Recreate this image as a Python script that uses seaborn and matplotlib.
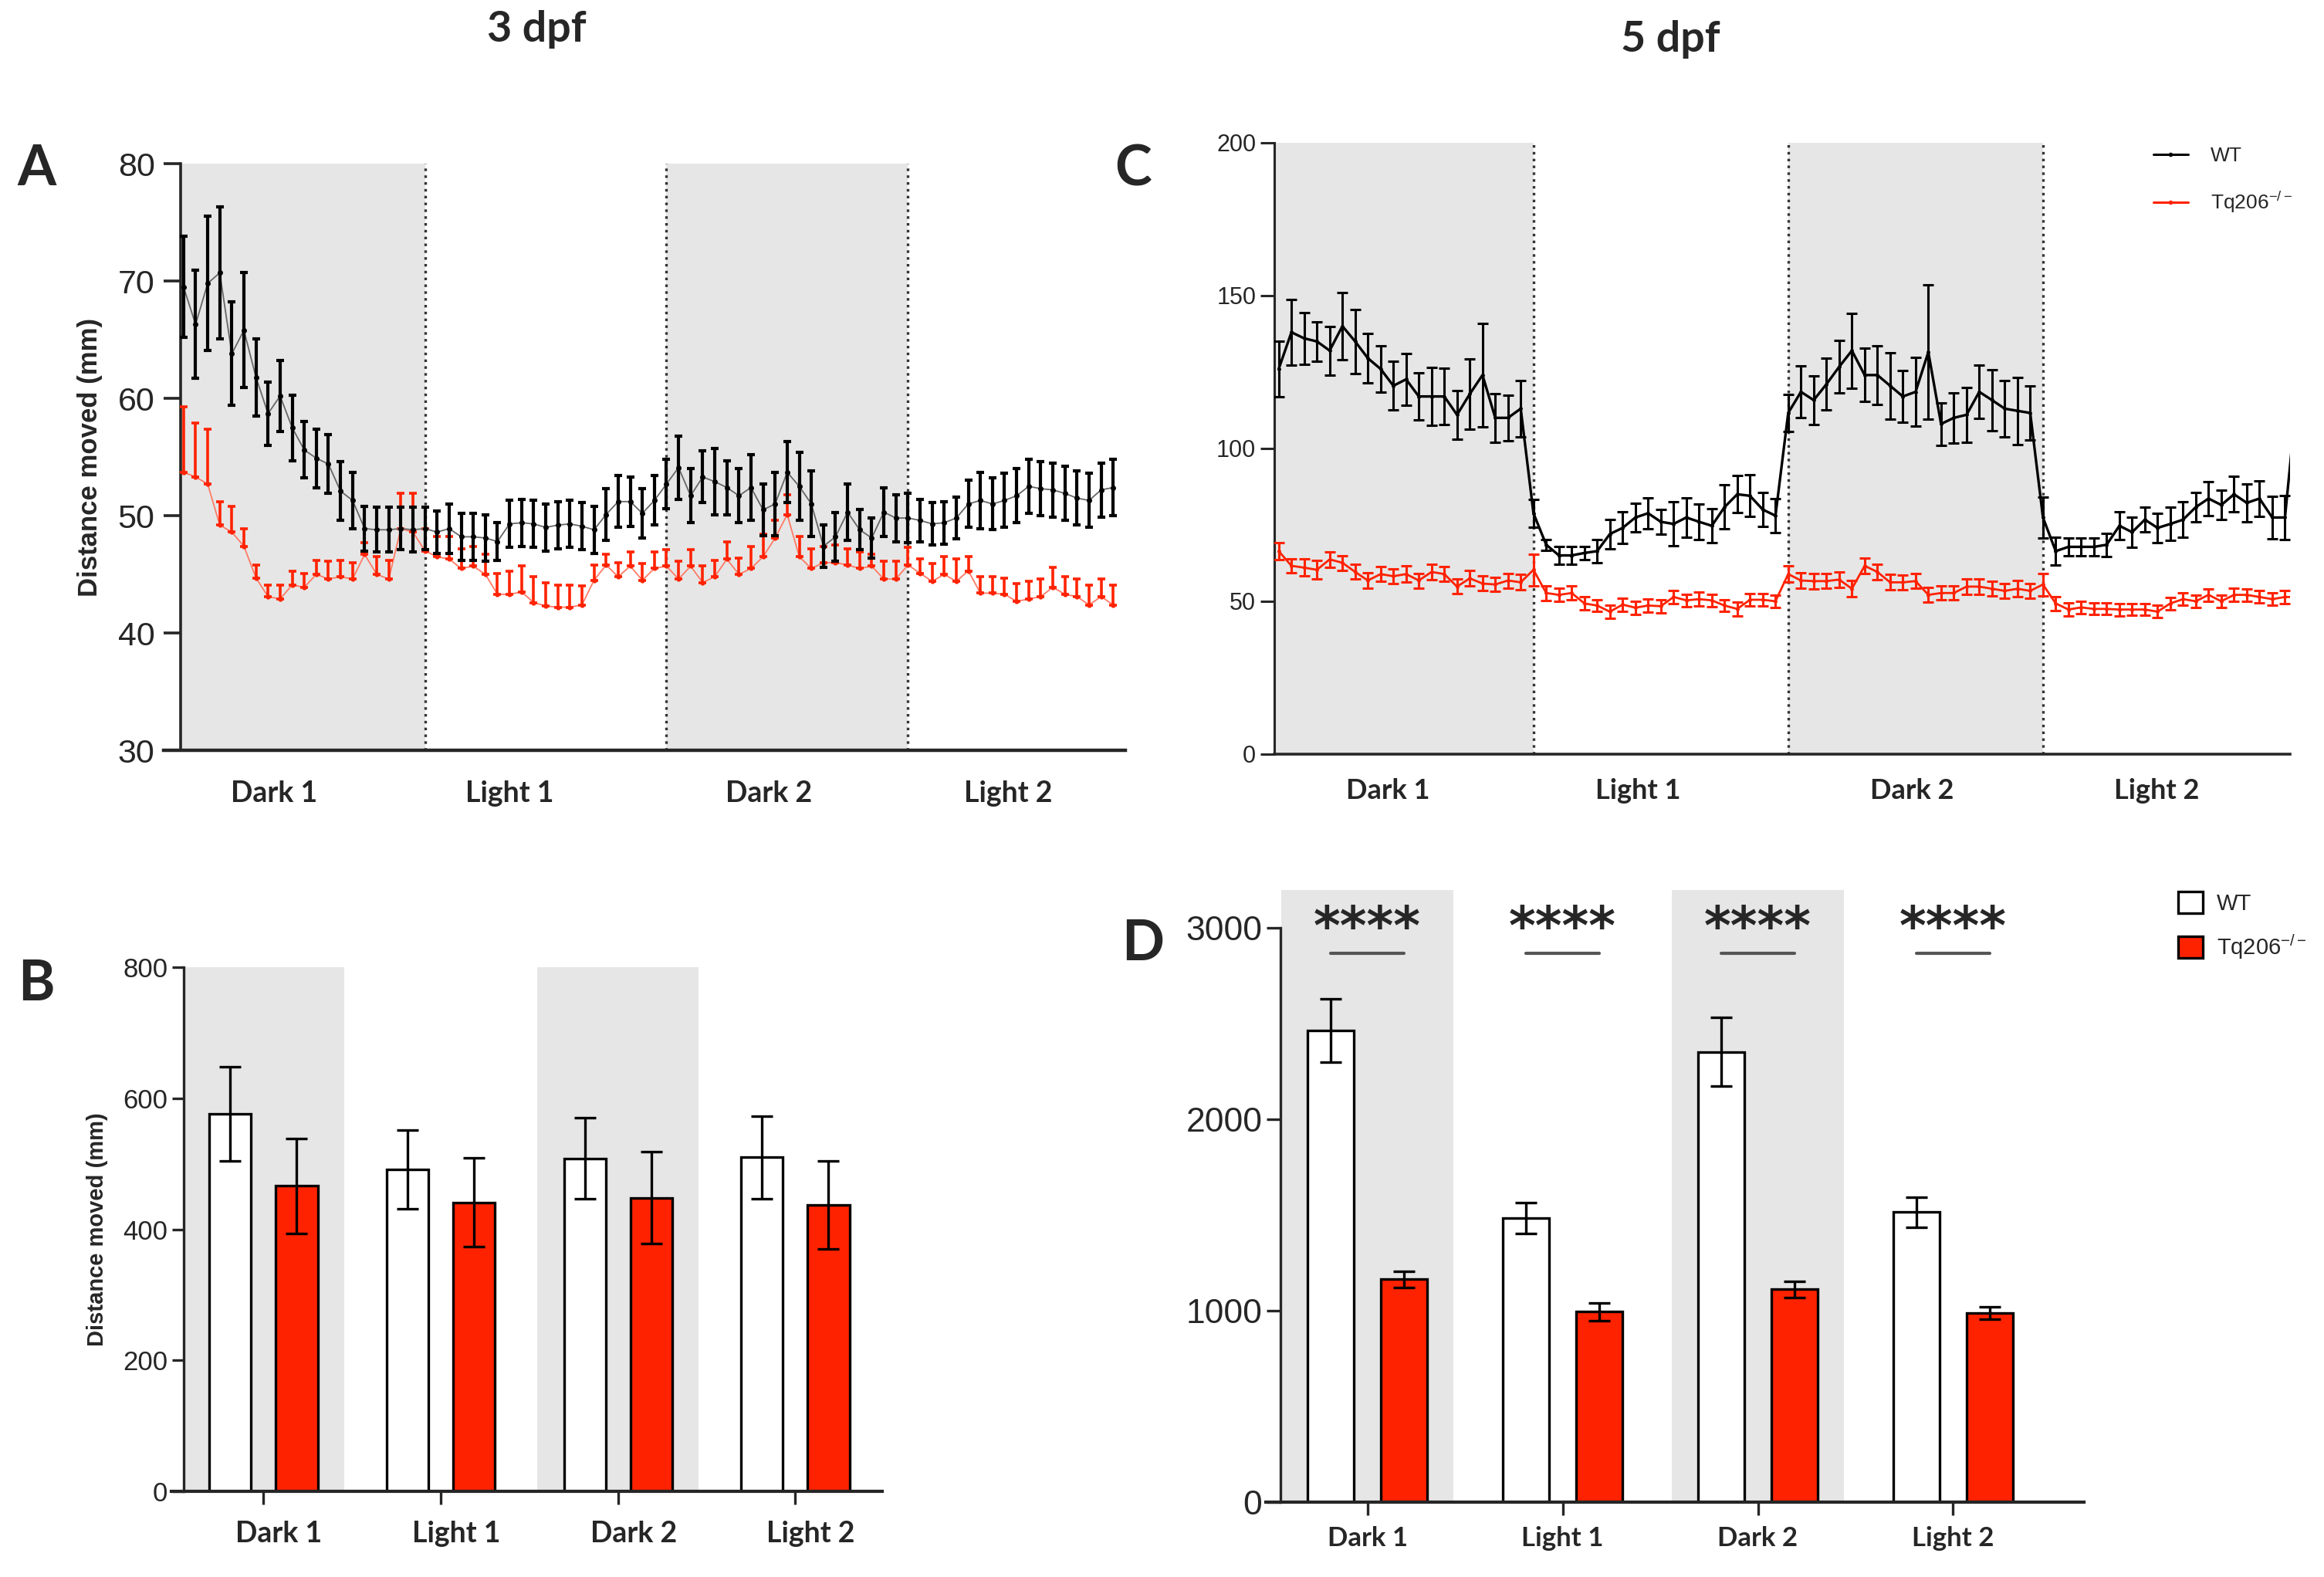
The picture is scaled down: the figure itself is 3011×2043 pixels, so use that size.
import numpy as np
import pandas as pd
import matplotlib
matplotlib.use("Agg")
import matplotlib.pyplot as plt
import seaborn as sns
from matplotlib.lines import Line2D
from matplotlib.patches import Patch
from matplotlib.transforms import ScaledTranslation

sns.set_style("ticks")
plt.rcParams['font.family'] = ['Liberation Sans', 'DejaVu Sans']
plt.rcParams['mathtext.fontset'] = 'custom'
plt.rcParams['mathtext.rm'] = 'Liberation Sans'
plt.rcParams['mathtext.it'] = 'Liberation Sans:italic'
plt.rcParams['mathtext.bf'] = 'Liberation Sans:bold'
plt.rcParams['mathtext.default'] = 'regular'

RED = "#FF2200"
SHADE = "#E6E6E6"
NARROW = ['Liberation Sans Narrow', 'Liberation Sans', 'DejaVu Sans']
HUMAN = ['Lato', 'DejaVu Sans']

periods = ["Dark 1", "Light 1", "Dark 2", "Light 2"]
genotypes = ["WT", "Tq206$^{-/-}$"]
period_len = 20  # minutes per light/dark period

# ============================================================
# Panel A: 3 dpf, distance moved per minute
# ============================================================
a_wt_mean = [69.5, 66.3, 69.8, 70.7, 63.8, 65.8, 61.8, 58.7, 60.2, 57.5,
             55.6, 54.9, 54.4, 52.1, 51.3, 48.9, 48.8, 48.8, 48.9, 48.8,
             48.9, 48.6, 48.9, 48.2, 48.2, 48.1, 47.8, 49.3, 49.4, 49.3,
             49.0, 49.2, 49.3, 49.1, 48.8, 50.1, 51.2, 51.2, 50.2, 51.3,
             52.7, 54.1, 51.7, 53.3, 52.9, 52.4, 51.7, 52.4, 50.5, 51.0,
             53.7, 52.5, 51.0, 47.4, 48.2, 50.3, 48.8, 48.1, 50.3, 49.8,
             49.8, 49.6, 49.3, 49.4, 49.8, 51.0, 51.3, 51.0, 51.3, 51.7,
             52.5, 52.3, 52.2, 51.9, 51.5, 51.3, 52.2, 52.4]
a_wt_sem = [4.3, 4.6, 5.7, 5.6, 4.4, 4.9, 3.3, 2.7, 3.0, 2.8,
            2.4, 2.5, 2.5, 2.5, 2.4, 1.9, 1.9, 1.9, 1.8, 1.9,
            1.8, 1.8, 2.1, 2.0, 2.0, 2.0, 1.6, 2.0, 2.0, 2.0,
            2.0, 2.0, 2.0, 2.0, 2.0, 2.2, 2.2, 2.1, 2.1, 2.1,
            2.1, 2.7, 2.3, 2.2, 2.8, 2.3, 2.3, 2.8, 2.2, 2.7,
            2.6, 2.9, 2.8, 1.8, 2.1, 2.4, 1.7, 1.7, 2.1, 2.0,
            2.1, 1.8, 1.8, 1.8, 1.8, 2.0, 2.4, 2.2, 2.3, 2.3,
            2.3, 2.3, 2.3, 2.3, 2.3, 2.3, 2.3, 2.4]
a_mut_mean = [53.7, 53.3, 52.7, 49.2, 48.6, 47.4, 44.7, 43.1, 42.9, 44.1,
              43.9, 45.0, 44.6, 44.8, 44.6, 46.7, 45.0, 44.6, 48.9, 48.6,
              47.0, 46.5, 46.3, 45.5, 45.7, 45.0, 43.3, 43.3, 43.5, 42.6,
              42.3, 42.2, 42.2, 42.4, 44.5, 45.8, 44.8, 45.7, 44.5, 45.5,
              45.7, 44.6, 45.7, 44.3, 44.8, 46.3, 45.0, 45.5, 46.5, 48.1,
              50.1, 46.5, 45.5, 46.0, 46.0, 45.8, 45.5, 45.7, 44.6, 44.6,
              45.8, 45.1, 44.4, 45.0, 44.4, 45.3, 43.4, 43.4, 43.3, 42.7,
              42.9, 43.1, 43.9, 43.3, 43.1, 42.4, 43.1, 42.4]
a_mut_sem = [5.6, 4.6, 4.7, 2.0, 2.2, 1.5, 1.1, 1.0, 1.2, 1.2,
             1.2, 1.2, 1.5, 1.4, 1.4, 1.0, 1.5, 1.6, 3.0, 3.3,
             1.9, 1.7, 1.9, 1.7, 1.7, 1.7, 1.8, 2.0, 2.2, 2.2,
             2.0, 1.9, 1.9, 1.6, 1.3, 0.9, 1.2, 1.2, 1.4, 1.4,
             1.4, 1.5, 1.4, 1.4, 1.4, 1.5, 1.4, 1.9, 1.9, 1.5,
             1.7, 1.7, 1.7, 1.4, 1.5, 1.4, 1.4, 1.0, 1.5, 1.5,
             1.5, 1.2, 1.5, 1.5, 1.9, 1.2, 1.4, 1.4, 1.4, 1.5,
             1.5, 1.5, 1.7, 1.5, 1.5, 1.7, 1.5, 1.7]

# ============================================================
# Panel C: 5 dpf, distance moved per minute
# ============================================================
c_wt_mean = [126, 138, 136, 135, 132, 140, 135, 129.5, 126, 120.5,
             122.6, 117, 117, 117, 111, 117.8, 124, 110, 110, 113,
             78.8, 68.5, 65, 65, 65.8, 66.4, 72, 74, 77.4, 78.8,
             76, 75.3, 77.4, 76, 74.7, 80.8, 85, 84.5, 80, 78,
             111.6, 118.5, 115.8, 121, 126.7, 132, 124, 124, 120.5, 117,
             118.5, 131.5, 108, 110, 111, 118.5, 115.8, 113, 112.3, 111.6,
             77.4, 66.4, 67.8, 67.8, 67.8, 68.5, 74.7, 72.6, 76.7, 74,
             75.3, 76.7, 80.8, 83.6, 81.5, 85, 82.2, 83.6, 77.4, 77.4,
             120]
c_wt_sem = [9, 10.7, 8.5, 6.5, 8, 11, 10.5, 8, 7.5, 8,
            8.4, 7.7, 9.5, 9.2, 8, 11.4, 17, 8, 7.5, 9.3,
            4.5, 1.8, 3, 2.9, 2.2, 3.7, 4.8, 5.2, 4.7, 5.1,
            4, 7.2, 6.5, 5.7, 5.5, 7.2, 6.1, 6.8, 5.5, 5.5,
            6, 8.5, 8, 8.4, 8.6, 12.2, 8.7, 9.6, 10.8, 8.5,
            11.3, 21.9, 7, 8.2, 9, 8.7, 10, 9.2, 11, 8.9,
            6.8, 4.5, 3, 3, 3, 3.8, 4.6, 5, 4, 4.8,
            5.4, 5.8, 4.9, 5.6, 4.8, 5.8, 6.2, 5.8, 7, 7.2,
            0]
c_mut_mean = [66.4, 61.6, 61, 60.3, 63.7, 62.6, 59.6, 56.8, 58.9, 58.2,
              58.9, 56.8, 59.6, 58.9, 54.8, 57.5, 55.8, 55.5, 56.8, 56.2,
              60.3, 52.7, 52.1, 52.7, 49.3, 48.6, 46.6, 48.9, 47.9, 48.6,
              48.4, 51.4, 50.3, 50.7, 50.3, 48.6, 47.5, 50.5, 50.5, 50,
              58.9, 56.8, 56.6, 56.6, 57.1, 54.1, 61.6, 59.6, 56.2, 56.2,
              56.6, 52.1, 52.7, 52.7, 54.8, 54.8, 54.1, 53.4, 54.1, 53.4,
              55.5, 49.3, 47.3, 48, 47.5, 47.5, 47.3, 47.3, 47.3, 46.6,
              49.3, 50.7, 50, 52.1, 50, 52.1, 52.1, 51.4, 50.7, 51.4,
              51.4]
c_mut_sem = [2.7, 2.2, 2.8, 3, 2.5, 2.4, 2.4, 2.5, 2.4, 2.5,
             2.6, 2.4, 2.6, 2.4, 2.4, 2.5, 2.4, 2.3, 2.4, 2.5,
             5.2, 2.4, 2.2, 2.3, 2.1, 2.0, 2.2, 2.2, 2.2, 2.2,
             2.1, 2.2, 2.0, 2.2, 2.0, 2.0, 2.2, 2.1, 2.1, 2.1,
             2.6, 2.5, 2.5, 2.4, 2.5, 2.6, 2.5, 2.6, 2.5, 2.4,
             2.4, 2.4, 2.3, 2.3, 2.5, 2.5, 2.4, 2.5, 2.6, 2.4,
             3.7, 2.3, 2.2, 2.0, 1.9, 1.9, 2.0, 1.9, 1.9, 2.0,
             2.0, 2.1, 2.1, 2.0, 2.1, 2.1, 2.0, 2.0, 2.0, 2.1,
             0]

# ============================================================
# Panels B and D: total distance per period
# ============================================================
b_wt = [576, 491, 508, 510]
b_wt_sem = [72, 60, 62, 63]
b_mut = [466, 441, 448, 437]
b_mut_sem = [72, 68, 70, 67]

d_wt = [2466, 1484, 2354, 1516]
d_wt_sem = [165, 82, 180, 78]
d_mut = [1165, 996, 1112, 989]
d_mut_sem = [42, 46, 42, 32]
d_stars = ["****", "****", "****", "****"]


fig = plt.figure(figsize=(30.11, 20.43), dpi=100)
ax_a = fig.add_axes([0.0704, 0.5242, 0.4138, 0.3720])
ax_c = fig.add_axes([0.5483, 0.5218, 0.4371, 0.3877])
ax_b = fig.add_axes([0.0737, 0.0543, 0.3059, 0.3324])
ax_d = fig.add_axes([0.5447, 0.0475, 0.3520, 0.3882])


def shade_dark(ax, start, n_periods):
    for k in range(0, n_periods, 2):
        lo = start if k == 0 else k * period_len
        ax.axvspan(lo, (k + 1) * period_len, color=SHADE, lw=0, zorder=0)
    for k in range(1, n_periods):
        ax.axvline(k * period_len, color="#333333", ls=":", lw=2.4, zorder=1)


# ---------------- A ----------------
t_a = np.arange(len(a_wt_mean))
shade_dark(ax_a, -0.25, 4)
sns.lineplot(x=t_a, y=a_mut_mean, ax=ax_a, color="#FF7A66", lw=1.3,
             marker="o", markersize=4.5, markeredgewidth=0,
             markerfacecolor=RED, zorder=3)
ax_a.errorbar(t_a, a_mut_mean, yerr=[np.zeros(len(t_a)), a_mut_sem], fmt="none",
              ecolor=RED, elinewidth=2.6, capsize=3.5, capthick=2.6, zorder=3)
sns.lineplot(x=t_a, y=a_wt_mean, ax=ax_a, color="#666666", lw=1.3,
             marker="o", markersize=5, markeredgewidth=0,
             markerfacecolor="black", zorder=4)
ax_a.errorbar(t_a, a_wt_mean, yerr=a_wt_sem, fmt="none",
              ecolor="black", elinewidth=3, capsize=3.5, capthick=3, zorder=4)
ax_a.set_xlim(-1.65, 78)
ax_a.set_ylim(30, 80)
ax_a.set_yticks(range(30, 81, 10))
ax_a.set_xticks([7.5, 27, 48.5, 68.3])
ax_a.set_xticklabels(periods, fontfamily=HUMAN, fontweight="bold", fontsize=27)
ax_a.tick_params(axis="x", length=0, pad=28)
ax_a.tick_params(axis="y", length=16, width=2.6, pad=8, labelsize=31)
for lab in ax_a.get_yticklabels():
    lab.set_fontfamily(NARROW)
ax_a.set_ylabel("Distance moved (mm)", fontsize=25, fontweight="bold")
ax_a.yaxis.set_label_coords(-0.063, 0.5)
sns.despine(ax=ax_a)
ax_a.spines["left"].set_position(("data", -0.25))
ax_a.spines["left"].set_linewidth(2.6)
ax_a.spines["bottom"].set_linewidth(3.2)

# ---------------- C ----------------
t_c = np.arange(len(c_wt_mean))
shade_dark(ax_c, -0.35, 4)
sns.lineplot(x=t_c, y=c_mut_mean, ax=ax_c, color=RED, lw=2.0,
             marker="o", markersize=3.5, markeredgewidth=0, zorder=3)
ax_c.errorbar(t_c, c_mut_mean, yerr=c_mut_sem, fmt="none",
              ecolor=RED, elinewidth=2.2, capsize=5, capthick=2.2, zorder=3)
sns.lineplot(x=t_c, y=c_wt_mean, ax=ax_c, color="black", lw=2.4,
             marker="o", markersize=3.5, markeredgewidth=0, zorder=4)
ax_c.errorbar(t_c, c_wt_mean, yerr=c_wt_sem, fmt="none",
              ecolor="black", elinewidth=2.2, capsize=5, capthick=2.2, zorder=4)
ax_c.set_xlim(-0.35, 79.4)
ax_c.set_ylim(0, 200)
ax_c.set_yticks(range(0, 201, 50))
ax_c.set_xticks([8.6, 28.2, 49.7, 68.9])
ax_c.set_xticklabels(periods, fontfamily=HUMAN, fontweight="bold", fontsize=26)
ax_c.tick_params(axis="x", length=0, pad=22)
ax_c.tick_params(axis="y", length=13, width=2.2, pad=4, labelsize=22)
sns.despine(ax=ax_c)
ax_c.spines["left"].set_linewidth(2.2)
ax_c.spines["bottom"].set_linewidth(2.6)
c_handles = [Line2D([], [], color="black", lw=2.2, marker="o", markersize=3),
             Line2D([], [], color=RED, lw=2.2, marker="o", markersize=3)]
ax_c.legend(c_handles, genotypes, loc="upper left", frameon=False,
            bbox_to_anchor=(2790 / 3011, 1 - 190 / 2043), bbox_transform=fig.transFigure,
            fontsize=19, handlelength=1.7, handletextpad=1.1, labelspacing=1.2,
            borderpad=0, borderaxespad=0)


# ---------------- bar panels ----------------
def bar_panel(ax, wt, wt_sem, mut, mut_sem, shade_half):
    df = pd.DataFrame({"period": periods * 2,
                       "genotype": [genotypes[0]] * 4 + [genotypes[1]] * 4,
                       "dist": wt + mut})
    for g in (0, 2):
        ax.axvspan(g - shade_half, g + shade_half, color=SHADE, lw=0, zorder=0)
    sns.barplot(data=df, x="period", y="dist", hue="genotype", order=periods,
                hue_order=genotypes, palette=["white", RED], saturation=1,
                edgecolor="black", linewidth=2.4, width=0.75, gap=0.37,
                errorbar=None, legend=False, ax=ax, zorder=2)
    centers = []
    for cont, err in zip(ax.containers, [wt_sem, mut_sem]):
        xs = [b.get_x() + b.get_width() / 2 for b in cont]
        ys = [b.get_height() for b in cont]
        ax.errorbar(xs, ys, yerr=err, fmt="none", ecolor="black",
                    elinewidth=2.4, capsize=10, capthick=2.4, zorder=5)
        centers.append(xs)
    ax.set_xlabel("")
    ax.set_ylabel("")
    sns.despine(ax=ax)
    ax.spines["left"].set_linewidth(2.4)
    ax.spines["bottom"].set_linewidth(3.0)
    return centers


# ---------------- B ----------------
bar_panel(ax_b, b_wt, b_wt_sem, b_mut, b_mut_sem, 0.455)
ax_b.set_xlim(-0.52, 3.49)
ax_b.set_ylim(0, 800)
ax_b.set_yticks(range(0, 801, 200))
ax_b.spines["left"].set_position(("data", -0.45))
ax_b.tick_params(axis="y", length=11, width=2.4, pad=4, labelsize=25)
ax_b.tick_params(axis="x", length=12, width=2.4, pad=15)
ax_b.set_xticklabels(periods, fontfamily=HUMAN, fontweight="bold", fontsize=27)
for lab in ax_b.get_xticklabels():
    lab.set_transform(lab.get_transform() + ScaledTranslation(0.2, 0, fig.dpi_scale_trans))
for lab in ax_b.get_yticklabels():
    lab.set_fontfamily(NARROW)
ax_b.set_ylabel("Distance moved (mm)", fontsize=21, fontweight="bold")
ax_b.yaxis.set_label_coords(-0.089, 0.5)

# ---------------- D ----------------
d_centers = bar_panel(ax_d, d_wt, d_wt_sem, d_mut, d_mut_sem, 0.44)
ax_d.set_xlim(-0.52, 3.67)
ax_d.set_ylim(0, 3200)
ax_d.set_yticks(range(0, 3001, 1000))
ax_d.spines["left"].set_position(("data", -0.445))
ax_d.spines["left"].set_bounds(0, 3000)
ax_d.tick_params(axis="y", length=13, width=2.4, pad=4, labelsize=32)
ax_d.tick_params(axis="x", length=12, width=2.4, pad=10)
ax_d.set_xticklabels(periods, fontfamily=HUMAN, fontweight="bold", fontsize=25)
for lab in ax_d.get_yticklabels():
    lab.set_fontfamily(NARROW)
for x_wt, x_mut, star in zip(d_centers[0], d_centers[1], d_stars):
    ax_d.plot([x_wt, x_mut], [2870, 2870], color="#555555", lw=3, zorder=5)
    ax_d.text((x_wt + x_mut) / 2, 2915, star, ha="center", va="baseline",
              fontsize=48, fontweight="bold", fontfamily="DejaVu Sans")
d_handles = [Patch(facecolor="white", edgecolor="black", lw=2.4),
             Patch(facecolor=RED, edgecolor="black", lw=2.4)]
ax_d.legend(d_handles, genotypes, loc="upper left", frameon=False,
            bbox_to_anchor=(2822 / 3011, 1 - 1155 / 2043), bbox_transform=fig.transFigure,
            prop={"family": NARROW, "size": 21}, handlelength=1.1, handleheight=1.1,
            handletextpad=0.6, labelspacing=0.8, borderpad=0, borderaxespad=0)

# ---------------- titles and panel letters ----------------
fig.text(0.2308, 0.9736, "3 dpf", ha="center", va="baseline",
         fontsize=40, fontweight="bold", fontfamily=HUMAN)
fig.text(0.7187, 0.9672, "5 dpf", ha="center", va="baseline",
         fontsize=40, fontweight="bold", fontfamily=HUMAN)
for letter, x, y in [("A", 0.0076, 0.8825), ("C", 0.4796, 0.8825),
                     ("B", 0.0076, 0.3656), ("D", 0.4826, 0.3910)]:
    fig.text(x, y, letter, ha="left", va="baseline", fontsize=52,
             fontweight="bold", fontfamily=HUMAN)

fig.savefig("out.png", dpi=100)
plt.close(fig)
